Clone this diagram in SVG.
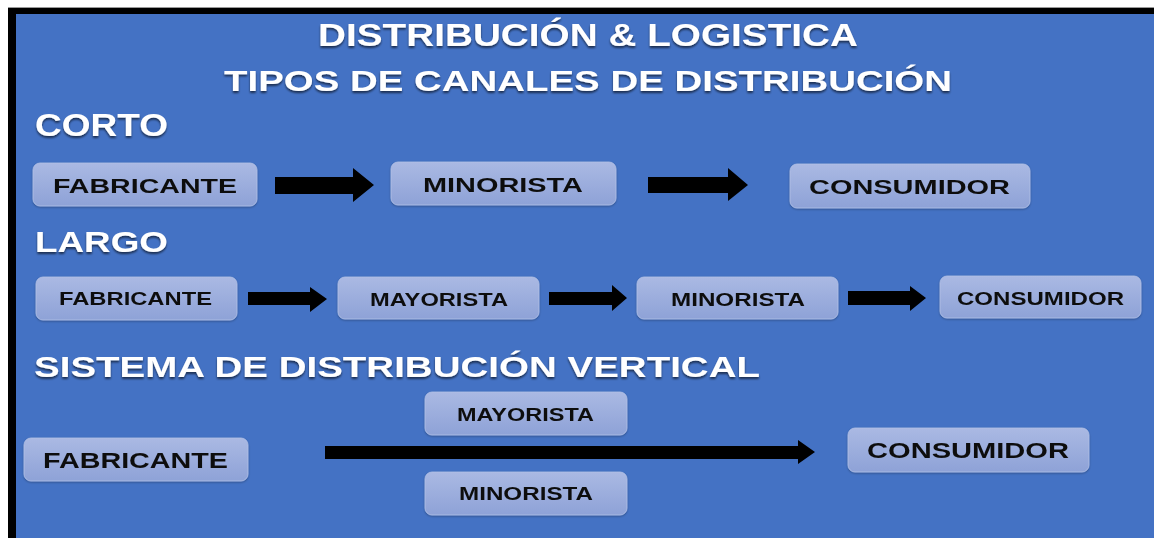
<svg xmlns="http://www.w3.org/2000/svg" width="1154" height="538" viewBox="0 0 1154 538">
  <defs>
    <linearGradient id="boxg" x1="0" y1="0" x2="0" y2="1">
      <stop offset="0" stop-color="#AAB9E3"/>
      <stop offset="1" stop-color="#8EA2D7"/>
    </linearGradient>
    <filter id="tsh" x="-5%" y="-30%" width="110%" height="160%">
      <feGaussianBlur in="SourceAlpha" stdDeviation="1.2"/>
      <feOffset dx="0" dy="1.5" result="b"/>
      <feComponentTransfer><feFuncA type="linear" slope="0.6"/></feComponentTransfer>
      <feMerge><feMergeNode/><feMergeNode in="SourceGraphic"/></feMerge>
    </filter>
    <filter id="bsh" x="-5%" y="-20%" width="110%" height="150%">
      <feGaussianBlur in="SourceAlpha" stdDeviation="1"/>
      <feOffset dx="0" dy="1" result="b"/>
      <feComponentTransfer><feFuncA type="linear" slope="0.3"/></feComponentTransfer>
      <feMerge><feMergeNode/><feMergeNode in="SourceGraphic"/></feMerge>
    </filter>
  </defs>
  <style>
    .head { font-family: "Liberation Sans", Arial, sans-serif; font-weight: bold; fill: #FFFFFF; }
    .box { fill: url(#boxg); stroke: #B4C1E6; stroke-width: 0.8; }
    .lbl { font-family: "Liberation Sans", Arial, sans-serif; font-weight: bold; fill: #111111; }
    .arr { fill: #000000; }
  </style>
  <rect x="0" y="0" width="1154" height="538" fill="#FFFFFF"/>
  <rect x="8" y="7" width="1146" height="531" fill="#000000"/>
  <line x1="8" y1="7.5" x2="1154" y2="7.5" stroke="#9A9A9A" stroke-width="1"/>
  <rect x="16" y="14" width="1140" height="526" fill="#4472C4"/>

  <g id="headings" filter="url(#tsh)">
    <text class="head" x="318" y="46" font-size="32" textLength="540" lengthAdjust="spacingAndGlyphs">DISTRIBUCIÓN &amp; LOGISTICA</text>
    <text class="head" x="224" y="91" font-size="30" textLength="728" lengthAdjust="spacingAndGlyphs">TIPOS DE CANALES DE DISTRIBUCIÓN</text>
    <text class="head" x="35" y="136" font-size="32" textLength="133" lengthAdjust="spacingAndGlyphs">CORTO</text>
    <text class="head" x="35" y="252" font-size="30" textLength="133" lengthAdjust="spacingAndGlyphs">LARGO</text>
    <text class="head" x="34" y="377" font-size="30" textLength="726" lengthAdjust="spacingAndGlyphs">SISTEMA DE DISTRIBUCIÓN VERTICAL</text>
  </g>

  <g id="connectors">
    <polygon class="arr" points="275,177 353,177 353,168 374,185 353,202 353,194 275,194"/>
    <polygon class="arr" points="648,177 728,177 728,168 748,185 728,201 728,193 648,193"/>
    <polygon class="arr" points="248,292 310,292 310,287 327,299 310,312 310,305 248,305"/>
    <polygon class="arr" points="549,292 612,292 612,285 627,298 612,311 612,305 549,305"/>
    <polygon class="arr" points="848,291 910,291 910,286 926,298 910,311 910,305 848,305"/>
    <polygon class="arr" points="325,446 798,446 798,440 815,452 798,464 798,459 325,459"/>
  </g>

  <g id="corto-fabricante" filter="url(#bsh)">
    <rect class="box" x="33" y="163" width="224" height="43" rx="7"/>
    <text class="lbl" x="53" y="193" font-size="21" textLength="184" lengthAdjust="spacingAndGlyphs">FABRICANTE</text>
  </g>
  <g id="corto-minorista" filter="url(#bsh)">
    <rect class="box" x="391" y="162" width="225" height="43" rx="7"/>
    <text class="lbl" x="423" y="192" font-size="21" textLength="160" lengthAdjust="spacingAndGlyphs">MINORISTA</text>
  </g>
  <g id="corto-consumidor" filter="url(#bsh)">
    <rect class="box" x="790" y="164" width="240" height="44" rx="7"/>
    <text class="lbl" x="809" y="194" font-size="21" textLength="201" lengthAdjust="spacingAndGlyphs">CONSUMIDOR</text>
  </g>

  <g id="largo-fabricante" filter="url(#bsh)">
    <rect class="box" x="36" y="277" width="201" height="43" rx="7"/>
    <text class="lbl" x="59" y="305" font-size="18" textLength="153" lengthAdjust="spacingAndGlyphs">FABRICANTE</text>
  </g>
  <g id="largo-mayorista" filter="url(#bsh)">
    <rect class="box" x="338" y="277" width="201" height="42" rx="7"/>
    <text class="lbl" x="370" y="306" font-size="18" textLength="138" lengthAdjust="spacingAndGlyphs">MAYORISTA</text>
  </g>
  <g id="largo-minorista" filter="url(#bsh)">
    <rect class="box" x="637" y="277" width="201" height="42" rx="7"/>
    <text class="lbl" x="671" y="306" font-size="18" textLength="134" lengthAdjust="spacingAndGlyphs">MINORISTA</text>
  </g>
  <g id="largo-consumidor" filter="url(#bsh)">
    <rect class="box" x="940" y="276" width="201" height="42" rx="7"/>
    <text class="lbl" x="957" y="305" font-size="18" textLength="167" lengthAdjust="spacingAndGlyphs">CONSUMIDOR</text>
  </g>

  <g id="vertical-fabricante" filter="url(#bsh)">
    <rect class="box" x="24" y="438" width="224" height="43" rx="7"/>
    <text class="lbl" x="43" y="468" font-size="22" textLength="185" lengthAdjust="spacingAndGlyphs">FABRICANTE</text>
  </g>
  <g id="vertical-mayorista" filter="url(#bsh)">
    <rect class="box" x="425" y="392" width="202" height="43" rx="7"/>
    <text class="lbl" x="457" y="421" font-size="19" textLength="137" lengthAdjust="spacingAndGlyphs">MAYORISTA</text>
  </g>
  <g id="vertical-minorista" filter="url(#bsh)">
    <rect class="box" x="425" y="472" width="202" height="43" rx="7"/>
    <text class="lbl" x="459" y="500" font-size="19" textLength="134" lengthAdjust="spacingAndGlyphs">MINORISTA</text>
  </g>
  <g id="vertical-consumidor" filter="url(#bsh)">
    <rect class="box" x="848" y="428" width="241" height="44" rx="7"/>
    <text class="lbl" x="867" y="458" font-size="22" textLength="202" lengthAdjust="spacingAndGlyphs">CONSUMIDOR</text>
  </g>
</svg>
